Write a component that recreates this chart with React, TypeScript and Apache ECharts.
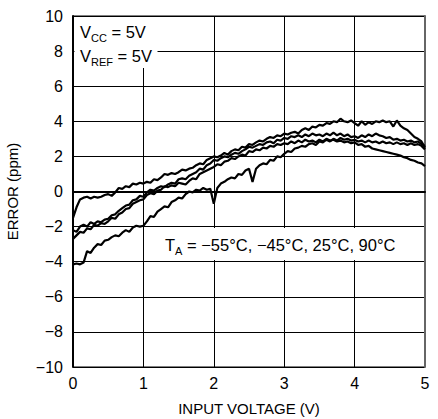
import React, { useEffect, useRef } from "react";
import * as echarts from "echarts";

// Input voltage sample grid (V), 0 … 5 in 0.05 V steps
const VOLTS: number[] = Array.from({ length: 101 }, (_, i) => Math.round(i * 5) / 100);

// Error (ppm)
const CURVE_A: number[] = [
  -1.5, -0.9, -0.45, -0.35, -0.3, -0.4, -0.3, -0.35, -0.3, -0.2,
  -0.15, -0.25, -0.05, 0.2, 0.15, 0.3, 0.25, 0.45, 0.4, 0.5,
  0.45, 0.55, 0.5, 0.7, 0.65, 0.8, 1.0, 0.95, 1.05, 1.0,
  1.1, 1.25, 1.2, 1.3, 1.35, 1.5, 1.6, 1.55, 1.8, 1.9,
  2.0, 1.95, 2.05, 2.2, 2.1, 2.3, 2.4, 2.35, 2.55, 2.5,
  2.7, 2.65, 2.8, 2.9, 2.85, 3.0, 3.1, 3.05, 3.2, 3.15,
  3.3, 3.25, 3.35, 3.4, 3.3, 3.5, 3.6, 3.5, 3.7, 3.65,
  3.8, 3.75, 3.9, 3.85, 4.0, 3.95, 4.15, 4.0, 3.95, 4.05,
  3.9, 3.75, 4.0, 3.8, 3.95, 3.85, 4.0, 3.95, 4.05, 3.95,
  4.0, 3.7, 4.05, 3.75, 3.6, 3.5, 3.3, 3.1, 3.0, 2.85,
  2.5,
];
const CURVE_B: number[] = [
  -2.2, -2.3, -2.0, -1.9, -2.0, -1.75, -1.85, -1.7, -1.75, -1.6,
  -1.55, -1.35, -1.3, -1.1, -0.95, -0.8, -0.75, -0.5, -0.45, -0.25,
  -0.3, -0.05, 0.1, 0.05, 0.2, 0.3, 0.25, 0.4, 0.5, 0.45,
  0.7, 0.75, 0.7, 0.9, 1.0, 1.1, 1.3, 1.25, 1.5, 1.6,
  1.8, 1.75, 1.9, 2.0, 1.95, 2.1, 2.2, 2.15, 2.3, 2.4,
  2.55, 2.5, 2.6, 2.7, 2.65, 2.8, 2.85, 2.75, 2.95, 2.9,
  3.05, 3.0, 3.15, 3.1, 3.2, 3.1, 3.25, 3.15, 3.3, 3.2,
  3.25, 3.15, 3.3, 3.2, 3.35, 3.2, 3.3, 3.15, 3.25, 3.1,
  3.15, 3.05, 3.2, 3.1, 3.25, 3.15, 3.3, 3.2, 3.15, 3.05,
  3.1, 2.95, 3.0, 2.9, 2.95, 2.85, 2.9, 2.8, 2.85, 2.7,
  2.6,
];
const CURVE_C: number[] = [
  -2.7, -2.5, -2.3, -2.35, -2.1, -2.15, -1.9, -1.95, -1.8, -1.85,
  -1.7, -1.5, -1.55, -1.3, -1.2, -1.0, -0.95, -0.7, -0.6, -0.5,
  -0.45, -0.2, -0.1, -0.15, 0.05, 0.1, 0.3, 0.25, 0.35, 0.3,
  0.5, 0.45, 0.4, 0.6, 0.75, 0.7, 1.0, 1.1, 1.2, 1.3,
  1.4, 1.55, 1.5, 1.7, 1.75, 1.9, 1.85, 2.0, 2.1, 2.05,
  2.3, 2.25, 2.4, 2.35, 2.5, 2.45, 2.6, 2.55, 2.7, 2.65,
  2.75, 2.7, 2.85, 2.75, 2.9, 2.8, 2.95, 2.85, 2.9, 2.8,
  2.95, 2.85, 3.0, 2.9, 2.95, 2.85, 2.9, 2.8, 2.85, 2.75,
  2.8, 2.65, 2.7, 2.55, 2.6, 2.45, 2.4, 2.35, 2.3, 2.25,
  2.2, 2.15, 2.1, 2.05, 1.95, 1.9, 1.8, 1.75, 1.65, 1.6,
  1.45,
];
const CURVE_D: number[] = [
  -4.15, -4.1, -4.15, -4.05, -3.4, -3.5, -3.2, -3.0, -3.05, -2.8,
  -2.75, -2.6, -2.5, -2.55, -2.35, -2.2, -2.3, -2.05, -1.95, -2.0,
  -1.95, -1.7, -1.4, -1.45, -1.15, -1.0, -0.85, -0.9, -0.6, -0.5,
  -0.35, -0.4, -0.15, 0.0, -0.05, 0.1, 0.05, 0.2, 0.1, 0.15,
  -0.7, 0.2, 0.45, 0.55, 0.7, 0.8, 0.75, 1.0, 0.95, 1.2,
  1.3, 0.55, 1.3, 1.5, 1.6, 1.55, 1.8, 1.75, 2.0, 1.95,
  2.15, 2.3, 2.25, 2.45, 2.5, 2.6, 2.55, 2.7, 2.75, 2.65,
  2.85, 2.8, 2.95, 2.85, 3.0, 2.9, 3.05, 2.95, 3.0, 2.9,
  2.95, 2.85, 2.9, 2.8, 2.9, 2.8, 2.85, 2.75, 2.85, 2.75,
  2.8, 2.7, 2.8, 2.7, 2.75, 2.65, 2.75, 2.65, 2.7, 2.6,
  2.4,
];

const CURVES: number[][] = [CURVE_A, CURVE_B, CURVE_C, CURVE_D];

const X_TITLE = "INPUT VOLTAGE (V)";
const Y_TITLE = "ERROR (ppm)";

const FONT = "'Liberation Sans', Arial, sans-serif";

export default function App() {
  const ref = useRef<HTMLDivElement>(null);

  useEffect(() => {
    if (!ref.current) return;
    const chart = echarts.init(ref.current, undefined, { renderer: "svg" });

    const main = { fontSize: 16.5, lineHeight: 22, fontFamily: FONT, color: "#000", verticalAlign: "middle" };
    const sub = { fontSize: 11, lineHeight: 12, fontFamily: FONT, color: "#000", verticalAlign: "bottom" };

    chart.setOption({
      animation: false,
      backgroundColor: "#fff",
      textStyle: { fontFamily: FONT },
      grid: {
        left: 73,
        right: 13,
        top: 16,
        bottom: 52,
        show: true,
        borderColor: "#000",
        borderWidth: 1,
        containLabel: false,
        outerBoundsMode: "none",
      },
      xAxis: {
        type: "value",
        min: 0,
        max: 5,
        interval: 1,
        name: X_TITLE,
        nameLocation: "middle",
        nameGap: 34,
        nameTextStyle: { fontSize: 15, color: "#000", fontFamily: FONT },
        axisLine: { show: true, lineStyle: { color: "#000", width: 2 } },
        axisTick: { show: false },
        axisLabel: { fontSize: 16, color: "#000", margin: 8, fontFamily: FONT },
        splitLine: { show: true, lineStyle: { color: "#000", width: 1 } },
      },
      yAxis: [
        {
          type: "value",
          min: -10,
          max: 10,
          interval: 2,
          name: Y_TITLE,
          nameLocation: "middle",
          nameGap: 53,
          nameTextStyle: { fontSize: 15, color: "#000", fontFamily: FONT },
          axisLine: { show: true, lineStyle: { color: "#000", width: 2 } },
          axisTick: { show: false },
          axisLabel: {
            fontSize: 16,
            color: "#000",
            margin: 10,
            fontFamily: FONT,
            formatter: (v: number) => (v < 0 ? "\u2212" + Math.abs(v) : String(v)),
          },
          splitLine: { show: true, lineStyle: { color: "#000", width: 1 } },
        },
        {
          type: "value",
          position: "right",
          min: -10,
          max: 10,
          interval: 2,
          axisLine: { show: true, lineStyle: { color: "#666", width: 2 } },
          axisTick: { show: false },
          axisLabel: { show: false },
          splitLine: { show: false },
        },
      ],
      series: CURVES.map((c) => ({
        type: "line",
        yAxisIndex: 0,
        showSymbol: false,
        symbol: "none",
        data: VOLTS.map((v, i) => [v, c[i]]),
        lineStyle: { color: "#000", width: 2.2 },
        z: 3,
      })),
      graphic: [
        { type: "rect", z: 10, shape: { x: 74.5, y: 17, width: 83, height: 51 }, style: { fill: "#fff" } },
        {
          type: "text",
          z: 11,
          x: 80,
          y: 32,
          style: {
            text: "{m|V}{s|CC}{m| = 5V}",
            rich: { m: main, s: sub },
            verticalAlign: "middle",
            align: "left",
          },
        },
        {
          type: "text",
          z: 11,
          x: 80,
          y: 56,
          style: {
            text: "{m|V}{s|REF}{m| = 5V}",
            rich: { m: main, s: sub },
            verticalAlign: "middle",
            align: "left",
          },
        },
        { type: "rect", z: 10, shape: { x: 160, y: 228, width: 244, height: 32 }, style: { fill: "#fff" } },
        {
          type: "text",
          z: 11,
          x: 165,
          y: 245,
          style: {
            text: "{m|T}{s|A}{m| = \u221255\u00b0C, \u221245\u00b0C, 25\u00b0C, 90\u00b0C}",
            rich: { m: main, s: sub },
            verticalAlign: "middle",
            align: "left",
          },
        },
      ],
    });

    return () => chart.dispose();
  }, []);

  return (
    <div
      ref={ref}
      style={{ position: "fixed", left: 0, top: 0, width: 438, height: 419 }}
    />
  );
}
